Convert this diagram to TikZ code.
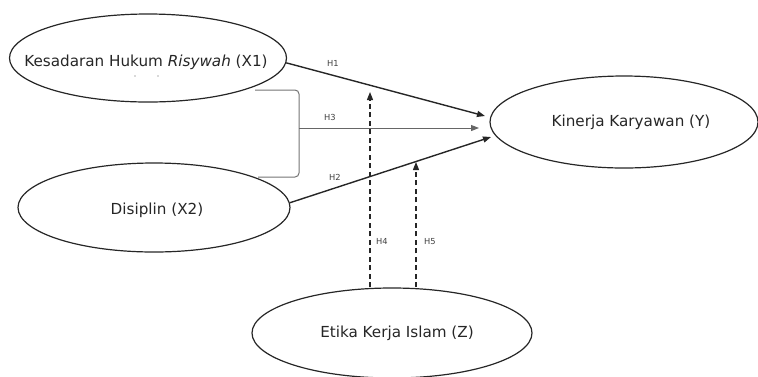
\documentclass[tikz,border=0pt]{standalone}
\usepackage{fontspec}
\setmainfont{DejaVu Sans}
\usetikzlibrary{shapes.geometric,arrows.meta}
\begin{document}
\begin{tikzpicture}[x=1pt,y=-1pt,
  var/.style={ellipse,draw=black!85,line width=1.2pt,inner sep=0pt},
  txt/.style={text=black!85,font=\fontsize{15.2}{17}\selectfont,inner sep=0pt},
  path/.style={line width=1.4pt,draw=black!85,-{Triangle[length=8pt,width=6pt]}},
  dpath/.style={line width=1.3pt,draw=black!85,dash pattern=on 5pt off 3.5pt,-{Triangle[length=8pt,width=6pt]}},
  lab/.style={font=\fontsize{8.3}{9}\selectfont,text=black!75,inner sep=0pt}]
\useasboundingbox (0,0) rectangle (758,376);
\node[var,minimum width=277pt,minimum height=88pt] (x1) at (148,58) {};
\node[txt] (t1) at (146,62) {Kesadaran Hukum \textit{Risywah} (X1)};
\node[var,minimum width=272pt,minimum height=89pt] (x2) at (154,207.5) {};
\node[txt] (t2) at (157,210) {Disiplin (X2)};
\node[var,minimum width=268pt,minimum height=92pt] (y) at (624,122) {};
\node[txt] (ty) at (631,122) {Kinerja Karyawan (Y)};
\node[var,minimum width=280pt,minimum height=90pt] (z) at (392,333) {};
\node[txt] (tz) at (397,333) {Etika Kerja Islam (Z)};
\fill[black!30] (135,76) circle (0.8pt) (158,76) circle (0.8pt);
% bracket
\coordinate (b1) at (255,90);
\coordinate (b2) at (258,177);
\coordinate (bm) at (299,128);
\draw[black!55,line width=1pt,rounded corners=4pt] (b1) -- (299,90) -- (299,177) -- (b2);
% targets
\coordinate (e1) at (485,116);
\coordinate (e3) at (479,128);
\coordinate (e2) at (491,137);
\draw[path] (x1.-2) -- (e1);
\draw[path,line width=1pt,draw=black!60] (bm) -- (e3);
\draw[path] (x2.2) -- (e2);
\coordinate (d4) at (370,92);
\coordinate (d5) at (416,162);
\draw[dpath] ([xshift=-22pt]z.north) -- (d4);
\draw[dpath] ([xshift=24pt]z.north) -- (d5);
\node[lab] (h1) at (333,63) {H1};
\node[lab] (h3) at (330,117) {H3};
\node[lab] (h2) at (335,177) {H2};
\node[lab] (h4) at (382,241) {H4};
\node[lab] (h5) at (430,242) {H5};
\end{tikzpicture}
\end{document}
